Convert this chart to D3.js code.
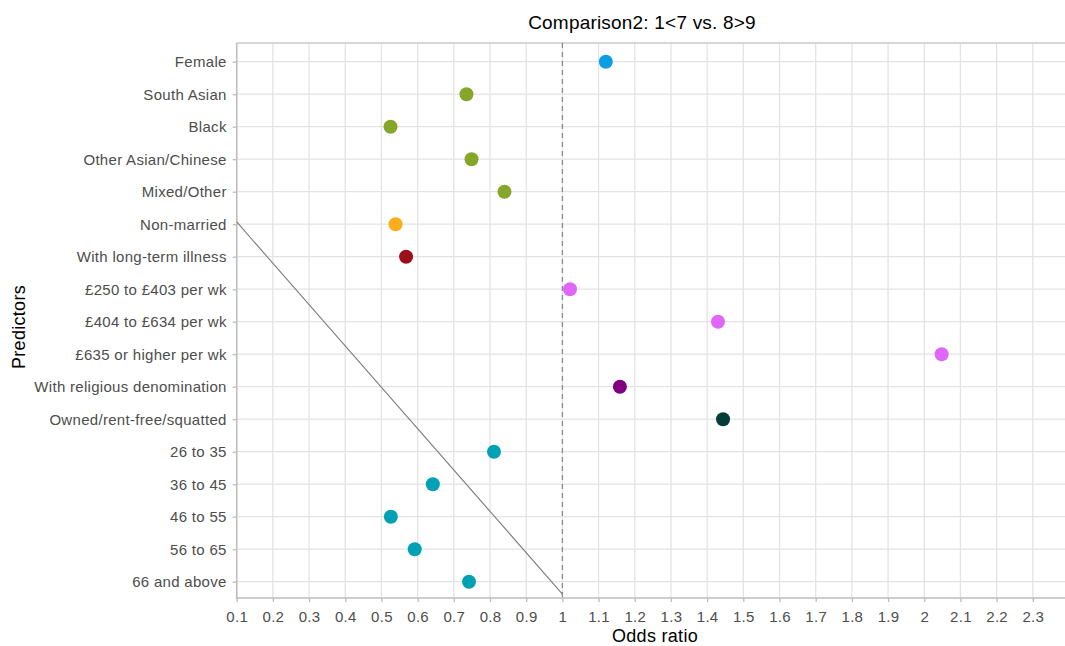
<!DOCTYPE html>
<html>

<head>
  <title>Comparison2 odds ratios</title>
  <script src="https://d3js.org/d3.v7.min.js"></script>
  <style>
    body { margin: 0; background: #fff; }
    text { font-family: "Liberation Sans", Arial, sans-serif; }
  </style>
</head>

<body>
  <div id="chart"></div>

  <script type="text/javascript">
    // predictors, top to bottom
    var predictors = ["Female", "South Asian", "Black", "Other Asian/Chinese", "Mixed/Other",
      "Non-married", "With long-term illness", "£250 to £403 per wk", "£404 to £634 per wk",
      "£635 or higher per wk", "With religious denomination", "Owned/rent-free/squatted",
      "26 to 35", "36 to 45", "46 to 55", "56 to 65", "66 and above"]
    var oddsRatios = [1.12, 0.735, 0.525, 0.749, 0.84, 0.539, 0.568, 1.021, 1.43, 2.048,
      1.159, 1.444, 0.811, 0.642, 0.526, 0.592, 0.742]
    var groups = ["sex", "eth", "eth", "eth", "eth", "mar", "ill", "inc", "inc", "inc",
      "rel", "ten", "age", "age", "age", "age", "age"]
    var groupNames = ["sex", "eth", "mar", "ill", "inc", "rel", "ten", "age"]
    var groupColors = ["#0a9ee4", "#86a62a", "#fbad1a", "#9b0f1a", "#e066fa", "#800080", "#073b3a", "#00a0b5"]
    var xTicks = d3.range(1, 24).map(d => d / 10)
    // stray diagonal reference line: [odds ratio, row index]
    var diagLine = [[0.1, 4.93], [1.0, 16.38]]

    var width = 1065, height = 646
    var pLeft = 236.7, pRight = 1069, pTop = 43, pBottom = 598

    var svg = d3.select("#chart").append("svg").attr("width", width).attr("height", height)

    var x = d3.scaleLinear().domain([0.1, 2.4]).range([pLeft, pRight])
    var y = d3.scaleLinear().domain([0, predictors.length - 1]).range([61.7, 581.7])
    var color = d3.scaleOrdinal().domain(groupNames).range(groupColors)

    // grid
    svg.append("g").selectAll("line").data(xTicks).enter().append("line")
      .attr("x1", d => x(d)).attr("x2", d => x(d)).attr("y1", pTop).attr("y2", pBottom)
      .attr("stroke", "#e3e3e3").attr("stroke-width", 1.3)
    svg.append("g").selectAll("line").data(predictors).enter().append("line")
      .attr("x1", pLeft).attr("x2", width).attr("y1", (d, i) => y(i)).attr("y2", (d, i) => y(i))
      .attr("stroke", "#e3e3e3").attr("stroke-width", 1.3)

    // panel top border
    svg.append("line").attr("x1", pLeft).attr("x2", width).attr("y1", pTop).attr("y2", pTop)
      .attr("stroke", "#c8c8c8").attr("stroke-width", 1.3)

    // x axis
    var xAxis = svg.append("g").attr("transform", "translate(0," + pBottom + ")")
      .call(d3.axisBottom(x).tickValues(xTicks).tickSize(4).tickSizeOuter(0).tickFormat(d3.format("~g")))
    xAxis.select(".domain").attr("stroke", "#bdbdbd").attr("stroke-width", 1.5)
      .attr("d", "M" + (pLeft - 1) + ",0H" + width)
    xAxis.selectAll(".tick line").attr("stroke", "#bdbdbd").attr("stroke-width", 1.3)
    xAxis.selectAll(".tick text").attr("fill", "#4d4d4d").attr("font-size", 15)
      .attr("letter-spacing", 0.3).attr("y", 10).attr("dy", "0.9em")

    // y axis
    var yAxis = svg.append("g").attr("transform", "translate(" + pLeft + ",0)")
      .call(d3.axisLeft(y).tickValues(d3.range(predictors.length)).tickSize(4).tickSizeOuter(0)
        .tickFormat(i => predictors[i]))
    yAxis.select(".domain").attr("stroke", "#bdbdbd").attr("stroke-width", 1.5)
      .attr("d", "M0," + pTop + "V" + (pBottom + 1))
    yAxis.selectAll(".tick line").attr("stroke", "#bdbdbd").attr("stroke-width", 1.3)
    yAxis.selectAll(".tick text").attr("fill", "#4d4d4d").attr("font-size", 15)
      .attr("letter-spacing", 0.3).attr("x", -10)

    // reference lines
    svg.append("line").attr("x1", x(1)).attr("x2", x(1)).attr("y1", pTop).attr("y2", pBottom)
      .attr("stroke", "#8c8c8c").attr("stroke-width", 1.3).attr("stroke-dasharray", "5,4")
    svg.append("path").datum(diagLine)
      .attr("d", d3.line().x(d => x(d[0])).y(d => y(d[1])))
      .attr("stroke", "#7a7a7a").attr("stroke-width", 1.1).attr("fill", "none")

    // points
    svg.append("g").selectAll("circle").data(predictors).enter().append("circle")
      .attr("cx", (d, i) => x(oddsRatios[i])).attr("cy", (d, i) => y(i)).attr("r", 7)
      .attr("fill", (d, i) => color(groups[i]))

    // titles
    svg.append("text").attr("x", 642).attr("y", 29).attr("text-anchor", "middle")
      .attr("font-size", 19).attr("letter-spacing", 0.2).attr("fill", "#000").text("Comparison2: 1<7 vs. 8>9")
    svg.append("text").attr("x", 655).attr("y", 642).attr("text-anchor", "middle")
      .attr("font-size", 18).attr("letter-spacing", 0.3).attr("fill", "#000").text("Odds ratio")
    svg.append("text").attr("transform", "translate(25,327) rotate(-90)")
      .attr("text-anchor", "middle").attr("font-size", 18).attr("letter-spacing", 0.3)
      .attr("fill", "#000").text("Predictors")
  </script>

</body>

</html>
